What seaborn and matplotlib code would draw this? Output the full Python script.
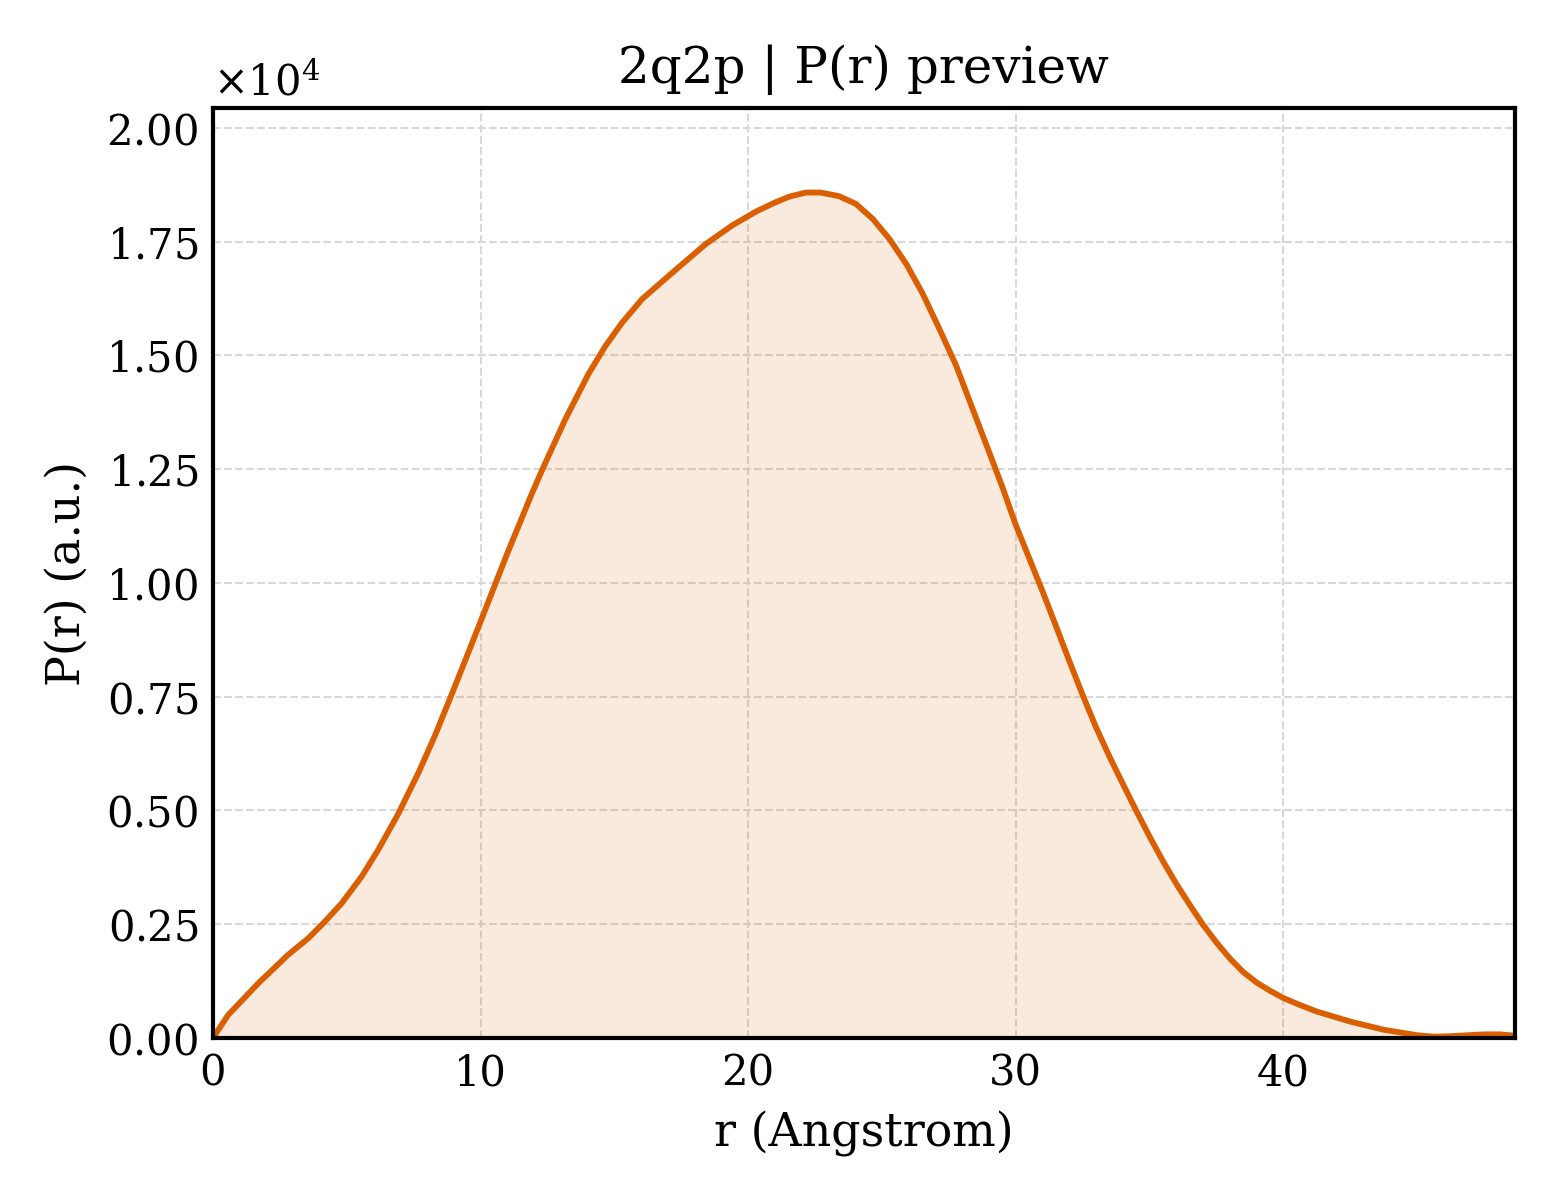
import numpy as np
import matplotlib
matplotlib.use("Agg")
import matplotlib.pyplot as plt
import seaborn as sns

# P(r) curve
r_values = [0.0, 0.56, 1.69, 2.81, 3.56, 4.12, 4.81, 5.56, 6.18, 6.92, 7.68, 8.3, 8.9,
            9.45, 10.0, 10.5, 11.0, 11.42, 11.9, 12.3, 12.75, 13.17, 14.04, 14.67, 15.29,
            16.04, 17.17, 18.42, 19.41, 20.29, 21.0, 21.54, 22.16, 22.72, 23.4, 24.03,
            24.66, 25.28, 25.91, 26.53, 27.15, 27.78, 28.4, 29.03, 29.5, 30.0, 30.5, 31.0,
            31.5, 32.0, 32.5, 33.0, 33.5, 34.0, 34.5, 35.0, 35.5, 36.0, 36.5, 37.0, 37.5,
            38.0, 38.5, 39.0, 39.5, 40.0, 40.6, 41.26, 42.51, 43.76, 45.01, 45.63, 46.25,
            47.5, 48.1, 48.65]
pr_values = [0, 500, 1200, 1830, 2190, 2520, 2960, 3550, 4140, 4920, 5830, 6650, 7520,
             8330, 9150, 9900, 10650, 11250, 11940, 12480, 13060, 13600, 14600, 15210,
             15720, 16240, 16820, 17450, 17860, 18160, 18360, 18490, 18580, 18580, 18500,
             18330, 18000, 17560, 17010, 16350, 15580, 14770, 13810, 12840, 12110, 11280,
             10550, 9820, 9060, 8290, 7540, 6830, 6190, 5590, 5000, 4430, 3890, 3390,
             2930, 2490, 2100, 1750, 1450, 1220, 1040, 880, 730, 580, 360, 180, 60, 30,
             40, 80, 80, 50]

title = "2q2p | P(r) preview"
line_color = "#D95F02"

r = np.array(r_values)
pr = np.array(pr_values, dtype=float)

sns.set_theme(style="white")
plt.rcParams['font.family'] = ['DejaVu Serif']
plt.rcParams['mathtext.fontset'] = 'dejavuserif'
plt.rcParams['text.color'] = 'black'
plt.rcParams['axes.labelcolor'] = 'black'

fig, ax = plt.subplots(figsize=(5.2, 4), dpi=300)
sns.lineplot(x=r, y=pr, color=line_color, linewidth=1.4, ax=ax)
ax.fill_between(r, pr, 0, color=line_color, alpha=0.13, linewidth=0)

ax.set_xlim(r.min(), r.max())
ax.set_ylim(0, pr.max() * 1.1)
ax.set_yticks(np.arange(0, 20001, 2500))
ax.ticklabel_format(axis='y', style='sci', scilimits=(0, 0), useMathText=True)
ax.yaxis.get_offset_text().set_fontsize(10)
ax.yaxis.get_offset_text().set_color('black')

ax.grid(True, linestyle='--', linewidth=0.5, color='#d8d8d8')
ax.tick_params(direction='in', length=4, width=1, labelsize=10, colors='black')
for s in ax.spines.values():
    s.set_color('black')
    s.set_linewidth(1)

ax.set_title(title, fontsize=12, color='black')
ax.set_xlabel("r (Angstrom)", fontsize=11, color='black')
ax.set_ylabel("P(r) (a.u.)", fontsize=11, color='black')

plt.subplots_adjust(left=0.1365, right=0.971, bottom=0.135, top=0.91)
plt.savefig("out.png", dpi=300)
